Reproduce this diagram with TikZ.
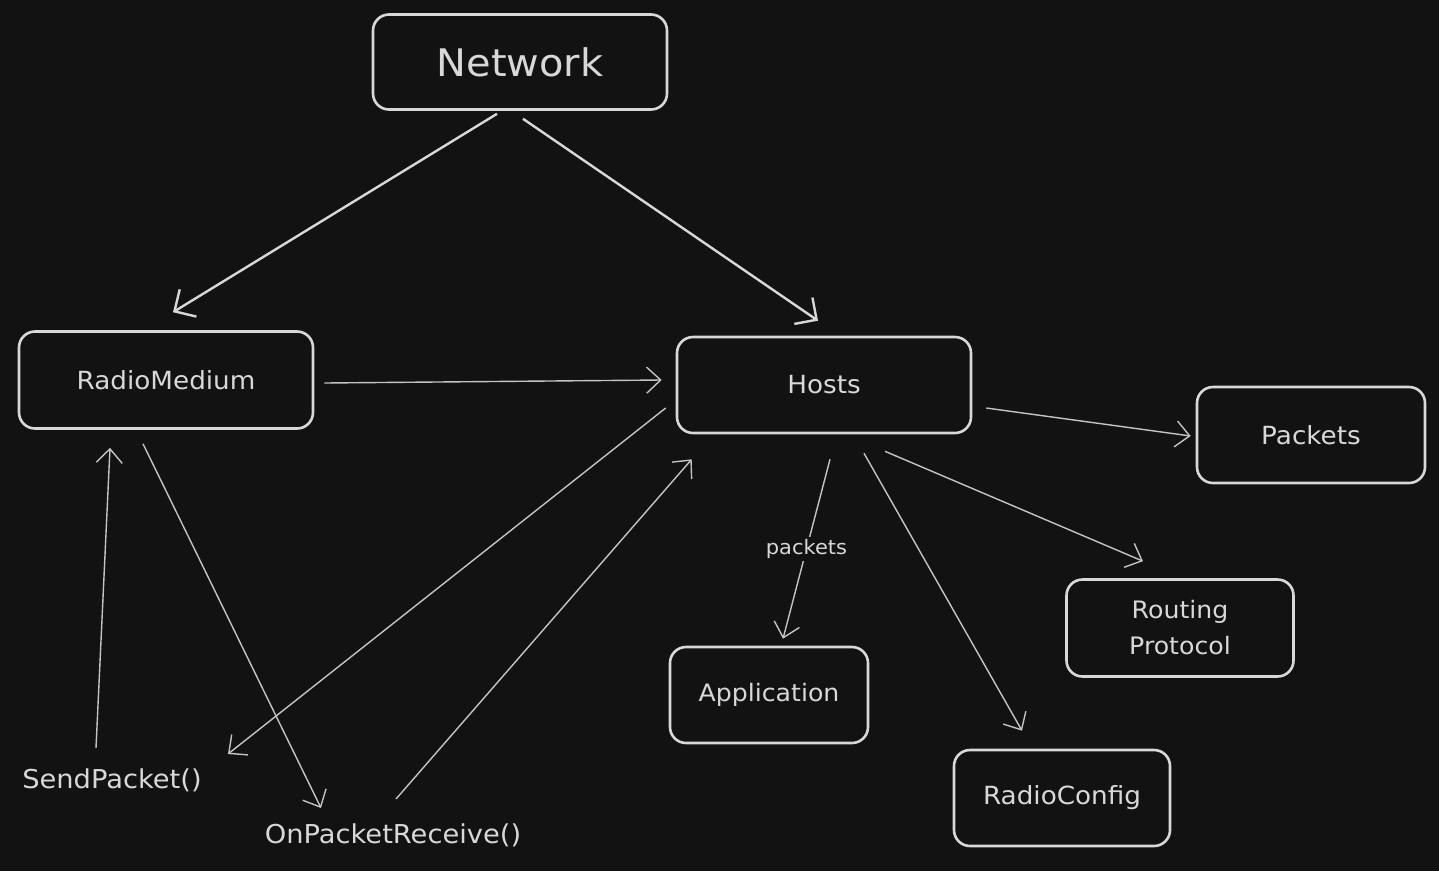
\documentclass[tikz,border=0pt]{standalone}
\usepackage{fontspec}
\setmainfont[FakeStretch=1.05]{DejaVu Sans}
\usetikzlibrary{arrows.meta}
\definecolor{bg}{HTML}{121212}
\definecolor{ink}{HTML}{D8D8D8}
\definecolor{thin}{HTML}{C4C4C4}
\tikzset{
  box/.style={draw=ink, line width=2.6pt, rounded corners=16pt, fill=bg,
    text=ink, align=center, inner sep=0pt},
  lbl/.style={text=ink, inner sep=0pt},
  bold arrow/.style={draw=ink, line width=2.4pt,
    -{Straight Barb[length=16pt,width=32pt,line width=2.4pt]}},
  slim arrow/.style={draw=thin, line width=1.4pt,
    -{Straight Barb[length=14pt,width=26pt,line width=1.4pt]}},
}
\begin{document}
\begin{tikzpicture}[x=1pt,y=-1pt]
  \fill[bg] (0,0) rectangle (1439,871);
  \useasboundingbox (0,0) rectangle (1439,871);

  % boxes
  \node[box, minimum width=294pt, minimum height=95pt, font=\fontsize{38}{44}\selectfont] (net) at (520,62) {Network};
  \node[box, minimum width=294pt, minimum height=97pt, font=\fontsize{25}{30}\selectfont] (rm) at (166,380) {RadioMedium};
  \node[box, minimum width=294pt, minimum height=96pt, font=\fontsize{25}{30}\selectfont] (hosts) at (824,385) {Hosts};
  \node[box, minimum width=228pt, minimum height=96pt, font=\fontsize{25}{30}\selectfont] (pk) at (1311,435) {Packets};
  \node[box, minimum width=227pt, minimum height=97pt, font=\fontsize{24}{36}\selectfont] (rp) at (1180,628) {Routing\\Protocol};
  \node[box, minimum width=198pt, minimum height=96pt, font=\fontsize{24}{30}\selectfont] (app) at (769,695) {Application};
  \node[box, minimum width=216pt, minimum height=96pt, font=\fontsize{25}{30}\selectfont] (rc) at (1062,798) {RadioConfig};

  % free labels
  \node[lbl, font=\fontsize{26}{30}\selectfont] (sp) at (112,780) {SendPacket()};
  \node[lbl, font=\fontsize{26}{30}\selectfont] (opr) at (393,835) {OnPacketReceive()};

  % connectors
  \draw[bold arrow] ([shift={(-23,3)}]net.south) -- ([shift={(7,-18)}]rm.north);
  \draw[bold arrow] ([shift={(3,8)}]net.south) -- ([shift={(-6,-15)}]hosts.north);
  \draw[slim arrow] ([shift={(10,3)}]rm.east) -- ([shift={(-14,-5)}]hosts.west);
  \draw[slim arrow] ([shift={(14,23)}]hosts.east) -- ([shift={(-5,1)}]pk.west);
  \draw[slim arrow] ([shift={(61,17)}]hosts.south) -- ([shift={(-37,-17)}]rp.north);
  \draw[slim arrow] ([shift={(40,19)}]hosts.south) -- ([shift={(-40,-18)}]rc.north);
  \draw[slim arrow] ([shift={(6,25)}]hosts.south) -- node[fill=bg, text=ink, inner sep=2pt, font=\fontsize{20}{24}\selectfont, pos=0.5] {packets} ([shift={(14,-7)}]app.north);
  \draw[slim arrow] ([shift={(-10,23)}]hosts.west) -- ([shift={(116,-26)}]sp.center);
  \draw[slim arrow] ([shift={(3,-36)}]opr.center) -- ([shift={(16,25)}]hosts.south west);
  \draw[slim arrow] ([shift={(-16,-32)}]sp.center) -- ([shift={(-56,18)}]rm.south);
  \draw[slim arrow] ([shift={(-23,14)}]rm.south) -- ([shift={(-72,-27)}]opr.center);
\end{tikzpicture}
\end{document}
